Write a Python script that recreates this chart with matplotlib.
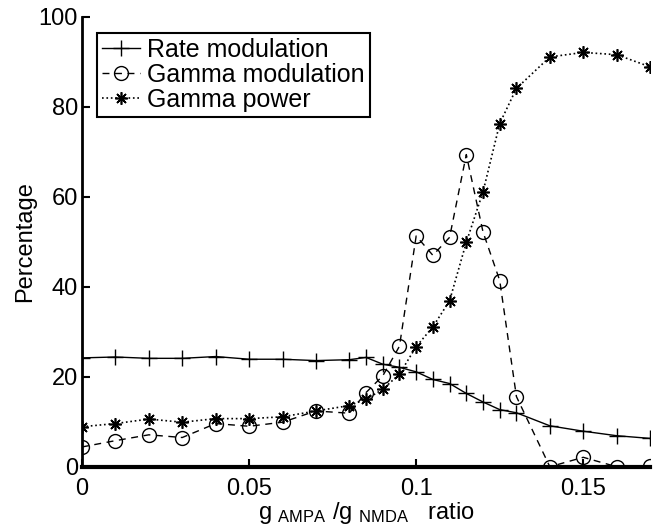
import matplotlib
matplotlib.use("Agg")
import matplotlib.pyplot as plt

plt.rcParams['font.family'] = ['Liberation Sans', 'DejaVu Sans']
plt.rcParams['mathtext.fontset'] = 'custom'
plt.rcParams['mathtext.rm'] = 'Liberation Sans'
plt.rcParams['mathtext.it'] = 'Liberation Sans'

ratio = [0, 0.01, 0.02, 0.03, 0.04, 0.05, 0.06, 0.07, 0.08, 0.085, 0.09, 0.095,
         0.1, 0.105, 0.11, 0.115, 0.12, 0.125, 0.13, 0.14, 0.15, 0.16, 0.17]
rate_mod = [24.2, 24.4, 24.1, 24.1, 24.5, 23.9, 23.9, 23.6, 23.8, 24.3, 22.8, 22.1,
            21.1, 19.4, 18.5, 16.3, 14.4, 12.7, 12.0, 9.1, 7.9, 6.9, 6.3]
gamma_mod = [4.4, 5.8, 7.1, 6.5, 9.6, 9.0, 9.9, 12.4, 11.9, 16.5, 20.2, 26.8,
             51.3, 47.0, 51.0, 69.4, 52.2, 41.4, 15.6, 0.0, 2.1, 0.0, 0.2]
gamma_pow = [8.9, 9.6, 10.6, 9.9, 10.7, 10.7, 11.1, 12.4, 13.6, 15.0, 17.2, 20.6,
             26.7, 31.1, 36.9, 49.9, 61.1, 76.3, 84.1, 91.1, 92.1, 91.6, 88.9]

fig = plt.figure(figsize=(6.56, 5.28), dpi=100)
ax = fig.add_axes([0.125, 0.116, 0.866, 0.852])

ax.plot(ratio, rate_mod, 'k-', marker='+', ms=11, mew=1, lw=1, label='Rate modulation')
ax.plot(ratio, gamma_mod, 'k--', marker='o', ms=10, mfc='none', mew=1, lw=1,
        dashes=(5, 4), label='Gamma modulation')
ax.plot(ratio, gamma_pow, 'k:', marker=(8, 2, 0), ms=9, mew=1.2, lw=1.2,
        label='Gamma power')

ax.set_xlim(0, 0.17)
ax.set_ylim(0, 100)
ax.set_xticks([0, 0.05, 0.1, 0.15])
ax.set_xticklabels(['0', '0.05', '0.1', '0.15'])
ax.set_yticks([0, 20, 40, 60, 80, 100])
ax.tick_params(direction='in', length=6, width=1.5, labelsize=17)
ax.tick_params(axis='y', pad=3)
ax.tick_params(axis='x', pad=8)
for s in ['top', 'right']:
    ax.spines[s].set_visible(False)
ax.spines['left'].set_linewidth(2)
ax.spines['bottom'].set_linewidth(3)

ax.set_ylabel('Percentage', fontsize=17, labelpad=2)
ax.set_xlabel(r'g$\ _{\rm AMPA}$ /g$\ _{\rm NMDA}$   ratio', fontsize=17, labelpad=0)

leg = ax.legend(loc='upper left', bbox_to_anchor=(0.005, 0.993), fontsize=18,
                handlelength=1.5, handletextpad=0.3, borderpad=0.2,
                labelspacing=0.05, fancybox=False, edgecolor='black', framealpha=1)
leg.get_frame().set_linewidth(1.5)

fig.savefig('out.png', dpi=100)
